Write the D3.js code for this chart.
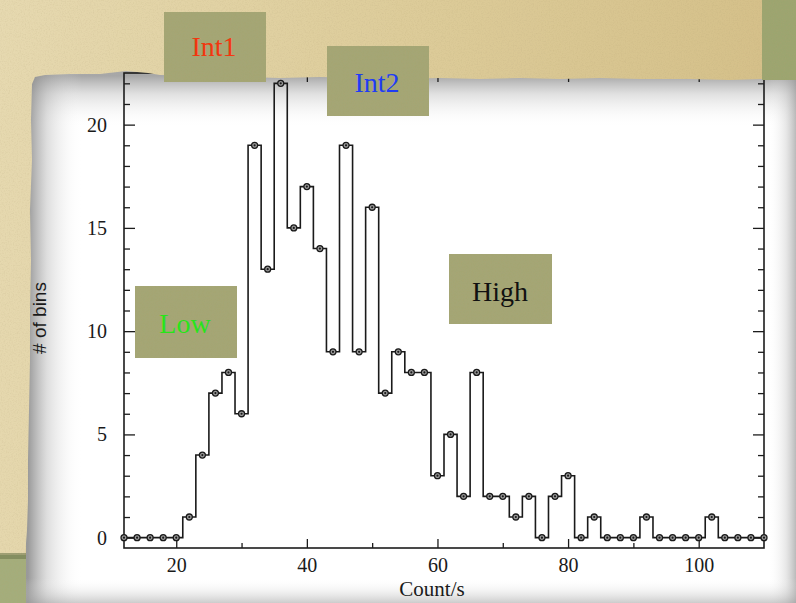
<!DOCTYPE html>
<html>
<head>
<meta charset="utf-8">
<script src="https://cdn.jsdelivr.net/npm/d3@7"></script>
<style>
  html, body { margin: 0; padding: 0; background: #dccb98; }
  svg { display: block; }
</style>
</head>
<body>
<div id="chart"></div>
<script>
// Histogram of count rates: bin centres (Count/s) and number of bins in each
const binCenters = [12, 14, 16, 18, 20, 22, 24, 26, 28, 30,
                    32, 34, 36, 38, 40, 42, 44, 46, 48, 50,
                    52, 54, 56, 58, 60, 62, 64, 66, 68, 70,
                    72, 74, 76, 78, 80, 82, 84, 86, 88, 90,
                    92, 94, 96, 98, 100, 102, 104, 106, 108, 110];
const binCounts = [0, 0, 0, 0, 0, 1, 4, 7, 8, 6,
                   19, 13, 22, 15, 17, 14, 9, 19, 9, 16,
                   7, 9, 8, 8, 3, 5, 2, 8, 2, 2,
                   1, 2, 0, 2, 3, 0, 1, 0, 0, 0,
                   1, 0, 0, 0, 0, 1, 0, 0, 0, 0];

const xMajorTicks = [20, 40, 60, 80, 100];
const xMinorTicks = [30, 50, 70, 90];
const yMajorTicks = [0, 5, 10, 15, 20];
const yMinorTicks = [1, 2, 3, 4, 6, 7, 8, 9, 11, 12, 13, 14, 16, 17, 18, 19, 21, 22];

const stateNames  = ["Int1", "Int2", "Low", "High"];
const stateColors = ["#f2370f", "#1f3cf5", "#27e41a", "#111111"];

const xLabel = "Count/s";
const yLabel = "# of bins";

const W = 796, H = 603;
const plot = { left: 124, right: 764, top: 73, bottom: 548 };

const svg = d3.select("#chart").append("svg")
  .attr("width", W).attr("height", H)
  .attr("viewBox", `0 0 ${W} ${H}`);

const defs = svg.append("defs");

// paper grain
const grain = defs.append("filter").attr("id", "grain")
  .attr("x", 0).attr("y", 0).attr("width", 1).attr("height", 1);
grain.append("feTurbulence").attr("type", "fractalNoise")
  .attr("baseFrequency", 0.75).attr("numOctaves", 2).attr("seed", 4).attr("result", "noise");
grain.append("feColorMatrix").attr("in", "noise").attr("type", "matrix")
  .attr("values", "0 0 0 0 0.45  0 0 0 0 0.36  0 0 0 0 0.18  0.45 0 0 0 -0.2")
  .attr("result", "dots");
grain.append("feComposite").attr("in", "dots").attr("in2", "SourceGraphic")
  .attr("operator", "in").attr("result", "clipped");
const gm = grain.append("feMerge");
gm.append("feMergeNode").attr("in", "SourceGraphic");
gm.append("feMergeNode").attr("in", "clipped");

function linGrad(id, x1, y1, x2, y2, stops) {
  const g = defs.append("linearGradient").attr("id", id)
    .attr("gradientUnits", "userSpaceOnUse")
    .attr("x1", x1).attr("y1", y1).attr("x2", x2).attr("y2", y2);
  stops.forEach(s => g.append("stop").attr("offset", s[0])
    .attr("stop-color", s[1]).attr("stop-opacity", s[2]));
}
linGrad("paperGrad", 0, 0, 796, 80, [[0, "#e6d9b0", 1], [0.5, "#ddcc9a", 1], [1, "#d4bf88", 1]]);
linGrad("shTop", 0, 76, 0, 128, [[0, "#8a8a8a", 0.75], [0.35, "#a8a8a8", 0.35], [1, "#ffffff", 0]]);
linGrad("shLeft", 28, 0, 82, 0, [[0, "#808080", 0.8], [0.35, "#a0a0a0", 0.35], [1, "#ffffff", 0]]);
linGrad("shRight", 798, 0, 768, 0, [[0, "#8c8c8c", 0.7], [0.4, "#b0b0b0", 0.3], [1, "#ffffff", 0]]);
linGrad("shBottom", 0, 604, 0, 578, [[0, "#9a9a9a", 0.55], [0.45, "#c0c0c0", 0.25], [1, "#ffffff", 0]]);

// white sheet with soft inner shading
svg.append("rect").attr("x", 26).attr("y", 70).attr("width", 780).attr("height", 540)
  .attr("fill", "#ffffff");
svg.append("rect").attr("x", 26).attr("y", 70).attr("width", 780).attr("height", 60).attr("fill", "url(#shTop)");
svg.append("rect").attr("x", 26).attr("y", 70).attr("width", 60).attr("height", 540).attr("fill", "url(#shLeft)");
svg.append("rect").attr("x", 766).attr("y", 70).attr("width", 40).attr("height", 540).attr("fill", "url(#shRight)");
svg.append("rect").attr("x", 26).attr("y", 576).attr("width", 780).attr("height", 30).attr("fill", "url(#shBottom)");

// scales
const x = d3.scaleLinear().domain([12, 110]).range([plot.left, plot.right]);
const y = d3.scaleLinear().domain([-0.5, 22.5]).range([plot.bottom, plot.top]);

const g = svg.append("g");
const axisColor = "#1c1c1c";

// ticks on all four sides, pointing inward
function drawAxis(axis, tx, ty, labels) {
  const a = g.append("g").attr("transform", `translate(${tx},${ty})`).call(axis);
  a.select(".domain").remove();
  a.selectAll(".tick line").attr("stroke", axisColor).attr("stroke-width", 1.3);
  a.selectAll("text")
    .attr("fill", "#1a1a1a")
    .style("font-family", "'Liberation Serif', 'Times New Roman', serif")
    .style("font-size", "20px");
  if (!labels) a.selectAll("text").remove();
  return a;
}
drawAxis(d3.axisBottom(x).tickValues(xMajorTicks).tickSizeInner(-9).tickSizeOuter(0).tickPadding(10).tickFormat(d3.format("d")), 0, plot.bottom, true);
drawAxis(d3.axisBottom(x).tickValues(xMinorTicks).tickSizeInner(-5).tickSizeOuter(0), 0, plot.bottom, false);
drawAxis(d3.axisTop(x).tickValues(xMajorTicks).tickSizeInner(-9).tickSizeOuter(0), 0, plot.top, false);
drawAxis(d3.axisTop(x).tickValues(xMinorTicks).tickSizeInner(-5).tickSizeOuter(0), 0, plot.top, false);
drawAxis(d3.axisLeft(y).tickValues(yMajorTicks).tickSizeInner(-11).tickSizeOuter(0).tickPadding(17).tickFormat(d3.format("d")), plot.left, 0, true);
drawAxis(d3.axisLeft(y).tickValues(yMinorTicks).tickSizeInner(-6).tickSizeOuter(0), plot.left, 0, false);
drawAxis(d3.axisRight(y).tickValues(yMajorTicks).tickSizeInner(-11).tickSizeOuter(0), plot.right, 0, false);
drawAxis(d3.axisRight(y).tickValues(yMinorTicks).tickSizeInner(-6).tickSizeOuter(0), plot.right, 0, false);

// frame
g.append("rect")
  .attr("x", plot.left).attr("y", plot.top)
  .attr("width", plot.right - plot.left).attr("height", plot.bottom - plot.top)
  .attr("fill", "none").attr("stroke", axisColor).attr("stroke-width", 1.6);

// histogram as a step line through the bin centres
const bins = binCenters.map((c, i) => ({ c, n: binCounts[i] }));
const step = d3.line().x(d => x(d.c)).y(d => y(d.n)).curve(d3.curveStep);
g.append("path").datum(bins)
  .attr("d", step)
  .attr("fill", "none").attr("stroke", "#1a1a1a").attr("stroke-width", 1.6);

// open markers with a dark centre at each bin
const marks = g.selectAll("g.bin").data(bins).join("g")
  .attr("class", "bin")
  .attr("transform", d => `translate(${x(d.c)},${y(d.n)})`);
marks.append("circle").attr("r", 3).attr("fill", "#9a9a9a")
  .attr("stroke", "#1a1a1a").attr("stroke-width", 1.3);
marks.append("circle").attr("r", 1.1).attr("fill", "#1a1a1a");

// axis titles
g.append("text").text(xLabel)
  .attr("x", 432).attr("y", 596).attr("text-anchor", "middle")
  .attr("fill", "#1a1a1a")
  .style("font-family", "'Liberation Serif', 'Times New Roman', serif").style("font-size", "21px");
g.append("text").text(yLabel)
  .attr("transform", "translate(46,318) rotate(-90)")
  .attr("text-anchor", "middle").attr("fill", "#1a1a1a")
  .style("font-family", "'Liberation Sans', Arial, sans-serif").style("font-size", "19px");

// torn paper edge lying over the top of the sheet and down the left side
const paperEdge = [
  [0, 0], [762, 0], [762, 79], [730, 80], [690, 79], [640, 79], [600, 78], [560, 79],
  [520, 78], [480, 79], [440, 78], [400, 79], [360, 78], [320, 77], [280, 78],
  [240, 77], [200, 76], [160, 75], [148, 73], [126, 71], [100, 74], [70, 74],
  [45, 75], [35, 77], [32, 84], [31, 120], [32, 160], [30, 210], [31, 260],
  [30, 310], [30, 360], [29, 410], [28, 460], [28, 500], [27, 530], [25, 556], [0, 556]
];
svg.append("path")
  .attr("d", d3.line()(paperEdge) + "Z")
  .attr("fill", "url(#paperGrad)")
  .attr("filter", "url(#grain)");

// green cloth showing at the corners
svg.append("rect").attr("x", 762).attr("y", 0).attr("width", 34).attr("height", 80)
  .attr("fill", "#9ca570").attr("filter", "url(#grain)");
svg.append("rect").attr("x", 0).attr("y", 555).attr("width", 26).attr("height", 48)
  .attr("fill", "#a4ad7c").attr("filter", "url(#grain)");
svg.append("rect").attr("x", 0).attr("y", 553).attr("width", 26).attr("height", 6)
  .attr("fill", "#6f7a4e").attr("opacity", 0.6);

// state labels on olive cards
const cardBoxes = [
  { x: 164, y: 12, w: 102, h: 70, tx: 214, ty: 56 },
  { x: 327, y: 46, w: 102, h: 70, tx: 377, ty: 92 },
  { x: 135, y: 286, w: 102, h: 72, tx: 185, ty: 333 },
  { x: 449, y: 254, w: 103, h: 70, tx: 500, ty: 301 }
];
stateNames.forEach((name, i) => {
  const b = cardBoxes[i];
  svg.append("rect").attr("x", b.x).attr("y", b.y).attr("width", b.w).attr("height", b.h)
    .attr("fill", "#a4a675").attr("filter", "url(#grain)");
  svg.append("text").text(name)
    .attr("x", b.tx).attr("y", b.ty).attr("text-anchor", "middle")
    .attr("fill", stateColors[i])
    .style("font-family", "'Liberation Serif', 'Times New Roman', serif")
    .style("font-size", "28px");
});
</script>
</body>
</html>
